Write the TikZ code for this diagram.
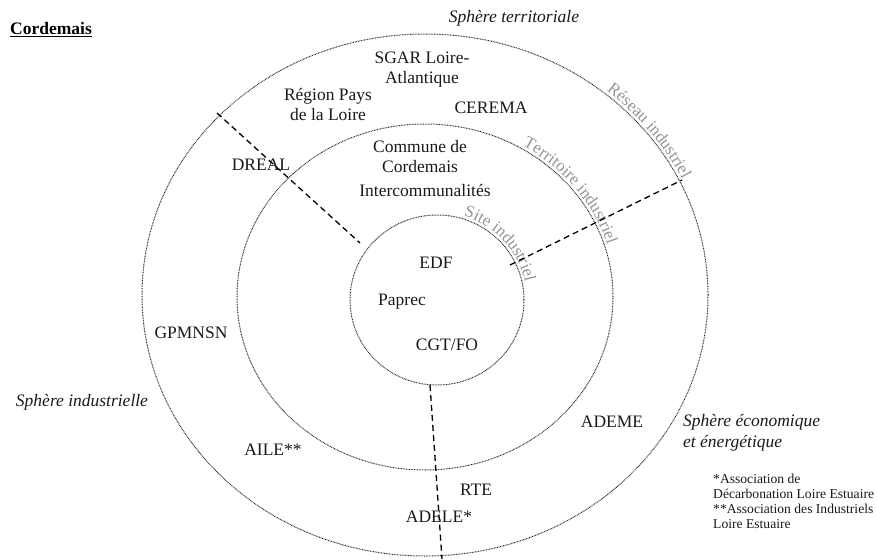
\documentclass[tikz,border=0pt]{standalone}
\usepackage{fontspec}
\setmainfont{Liberation Serif}
\usetikzlibrary{decorations.text,calc}
\definecolor{ringgray}{gray}{0.15}
\definecolor{labelgray}{gray}{0.58}
\tikzset{
  ring/.style={draw=ringgray, line width=1pt, dash pattern=on 0.8pt off 0.8pt},
  link/.style={draw=black, line width=1.3pt, dash pattern=on 6pt off 4pt},
  lab/.style={font=\fontsize{17.5}{20}\selectfont, align=center, inner sep=0pt, text=black!90},
  sph/.style={font=\fontsize{17.5}{21}\selectfont\itshape, inner sep=0pt, align=left, text=black!90},
  note/.style={font=\fontsize{13.6}{15}\selectfont, inner sep=0pt, align=left, text=black!90},
}
\begin{document}
\begin{tikzpicture}[x=1pt,y=1pt]
\useasboundingbox (0,0) rectangle (877,-559);
% centres
\coordinate (oc) at (425,-295);
\coordinate (mc) at (425,-297);
\coordinate (ic) at (437,-300);
% rings
\draw[ring] (oc) ellipse [x radius=283, y radius=261];
\draw[ring] (mc) ellipse [x radius=188, y radius=173];
\draw[ring] (ic) ellipse [x radius=87, y radius=85];
% ring labels
\path[decorate, decoration={text along path, text align=center,
  text={|\fontsize{17}{20}\selectfont\color{labelgray}|Réseau industriel}}]
  ($(oc)+(62:286pt and 264pt)$) arc[start angle=62, end angle=14, x radius=286, y radius=264];
\path[decorate, decoration={text along path, text align=center,
  text={|\fontsize{17}{20}\selectfont\color{labelgray}|Territoire industriel}}]
  ($(mc)+(66:191pt and 176pt)$) arc[start angle=66, end angle=10, x radius=191, y radius=176];
\path[decorate, decoration={text along path, text align=center,
  text={|\fontsize{17}{20}\selectfont\color{labelgray}|Site industriel}}]
  ($(ic)+(90:90pt and 88pt)$) arc[start angle=90, end angle=-6, x radius=90, y radius=88];
% dashed links
\coordinate (a1) at (217,-113);
\coordinate (a2) at (360,-243);
\coordinate (b1) at (510,-265);
\coordinate (b2) at (682,-180);
\coordinate (c1) at (430,-385);
\coordinate (c2) at (442,-559);
\draw[link] (a1) -- (a2);
\draw[link] (b1) -- (b2);
\draw[link] (c1) -- (c2);
% title
\node[anchor=west, inner sep=0pt, font=\fontsize{17.5}{20}\selectfont\bfseries] (title) at (10,-30) {\underline{Cordemais}};
% sphere labels
\node[sph] (sterr) at (514,-18) {Sphère territoriale};
\node[sph] (sind) at (82,-402) {Sphère industrielle};
\node[sph, anchor=west] (seco) at (683,-432.5) {Sphère économique\\et énergétique};
% actors
\node[lab] (sgar) at (422,-70) {SGAR Loire-\\Atlantique};
\node[lab] (region) at (328,-105) {Région Pays\\de la Loire};
\node[lab] (cerema) at (491,-108) {CEREMA};
\node[lab] (commune) at (420,-157) {Commune de\\Cordemais};
\node[lab] (interco) at (425,-191) {Intercommunalités};
\node[lab] (dreal) at (261,-165) {DREAL};
\node[lab] (edf) at (436,-263) {EDF};
\node[lab] (paprec) at (402,-302) {Paprec};
\node[lab] (cgt) at (447,-345) {CGT/FO};
\node[lab] (gpm) at (191,-333) {GPMNSN};
\node[lab] (aile) at (273,-450) {AILE**};
\node[lab] (ademe) at (612,-422) {ADEME};
\node[lab] (rte) at (476,-490) {RTE};
\node[lab] (adele) at (439,-517) {ADELE*};
% footnote
\node[note, anchor=north west] (notes) at (713,-474) {*Association de\\Décarbonation Loire Estuaire\\**Association des Industriels\\Loire Estuaire};
\end{tikzpicture}
\end{document}
